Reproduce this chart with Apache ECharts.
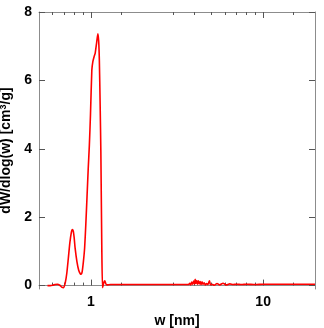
<!DOCTYPE html>
<html><head><meta charset="utf-8">
<script src="https://cdn.jsdelivr.net/npm/echarts@6/dist/echarts.min.js"></script>
<style>html,body{margin:0;padding:0;background:#fff}#c{width:324px;height:328px}</style>
</head><body><div id="c"></div>
<script>
var widths = [0.56,0.58,0.60,0.62,0.64,0.66,0.68,0.695,0.71,0.725,0.74,0.755,0.77,0.78,0.79,0.80,0.81,0.83,0.85,0.87,0.88,0.89,0.905,0.92,0.935,0.95,0.965,0.98,0.995,1.013,1.027,1.045,1.06,1.08,1.098,1.11,1.12,1.132,1.143,1.158,1.168,1.178,1.19,1.205,1.22,1.24,1.3,1.5,2.0,2.5,3.0,3.4,3.70,3.75,3.80,3.85,3.90,3.95,4.00,4.03,4.07,4.12,4.16,4.21,4.26,4.31,4.36,4.42,4.48,4.55,4.62,4.70,4.78,4.88,4.95,5.05,5.2,5.4,5.6,5.85,6.1,6.4,6.7,7.0,7.5,8,9,10,12,15,20];
var dwdlogw = [0.0,0.0,0.01,0.03,0.04,0.01,-0.05,-0.06,0.08,0.36,0.8,1.25,1.55,1.64,1.6,1.4,1.1,0.7,0.45,0.34,0.33,0.4,0.7,1.1,1.8,2.6,3.4,4.1,5.0,6.3,6.55,6.7,6.8,7.1,7.36,7.15,6.6,5.3,3.9,1.0,-0.06,0.0,0.1,0.14,0.06,0.02,0.03,0.03,0.03,0.03,0.03,0.03,0.03,0.07,0.02,0.10,0.04,0.13,0.05,0.18,0.06,0.15,0.04,0.14,0.05,0.12,0.03,0.11,0.04,0.08,0.02,0.06,0.03,0.14,0.02,0.04,0.01,0.06,0.02,0.07,0.02,0.05,0.03,0.04,0.03,0.04,0.03,0.04,0.04,0.04,0.04];
var xMajorTicks = [1, 10];
var xMinorTicks = [0.6, 0.7, 0.8, 0.9, 1.5, 3, 4, 5, 6, 7, 8, 9, 15];
var yTicks = [0, 2, 4, 6, 8];

var pts = widths.map(function (w, i) { return [w, dwdlogw[i]]; });
var font = "'Liberation Sans', Arial, sans-serif";
var grey = '#8c8c8c';
function xa(pos, ticks, len, showLine, showLabel) {
  return {
    type: 'log', logBase: 10, min: 0.5, max: 20, position: pos, gridIndex: 0,
    axisLine: { show: showLine, lineStyle: { color: grey, width: 1 } },
    axisTick: { show: true, inside: true, length: len, customValues: ticks, lineStyle: { color: '#555', width: 1 } },
    axisLabel: { show: showLabel, customValues: ticks, color: '#000', fontWeight: 'bold', fontSize: 14, fontFamily: font, margin: 6 },
    splitLine: { show: false }, minorTick: { show: false }
  };
}
var xAxes = [xa('bottom', xMajorTicks, 6, true, true), xa('bottom', xMinorTicks, 3, false, false),
             xa('top', xMajorTicks, 6, true, false), xa('top', xMinorTicks, 3, false, false)];
xAxes[0].name = 'w [nm]';
xAxes[0].nameLocation = 'middle';
xAxes[0].nameGap = 24;
xAxes[0].nameTextStyle = { color: '#000', fontWeight: 'bold', fontSize: 14, fontFamily: font };
function ya(pos, showLabel) {
  return {
    type: 'value', min: -0.1, max: 8, position: pos, gridIndex: 0,
    axisLine: { show: true, lineStyle: { color: grey, width: 1 } },
    axisTick: { show: true, inside: true, length: 6, customValues: yTicks, lineStyle: { color: '#555', width: 1 } },
    axisLabel: { show: showLabel, customValues: yTicks, color: '#000', fontWeight: 'bold', fontSize: 14, fontFamily: font, margin: 7 },
    splitLine: { show: false }
  };
}
var yAxes = [ya('left', true), ya('right', false)];
yAxes[0].name = 'dW/dlog(w) [cm{sup|3}/g]';
yAxes[0].nameLocation = 'middle';
yAxes[0].nameGap = 20;
yAxes[0].nameTextStyle = { color: '#000', fontWeight: 'bold', fontSize: 14, fontFamily: font,
  rich: { sup: { fontSize: 9, fontWeight: 'bold', fontFamily: font, color: '#000', verticalAlign: 'top', padding: [0, 0, 6, 0] } } };

var chart = echarts.init(document.getElementById('c'), null, { renderer: 'canvas' });
chart.setOption({
  animation: false,
  grid: { left: 39, right: 9, top: 12, bottom: 39, containLabel: false, outerBoundsMode: 'none' },
  xAxis: xAxes,
  yAxis: yAxes,
  series: [{ type: 'line', xAxisIndex: 0, yAxisIndex: 0, data: pts, showSymbol: false, smooth: 0.2,
    lineStyle: { color: '#ff0000', width: 1.6 }, itemStyle: { color: '#ff0000' } }]
});
</script></body></html>
